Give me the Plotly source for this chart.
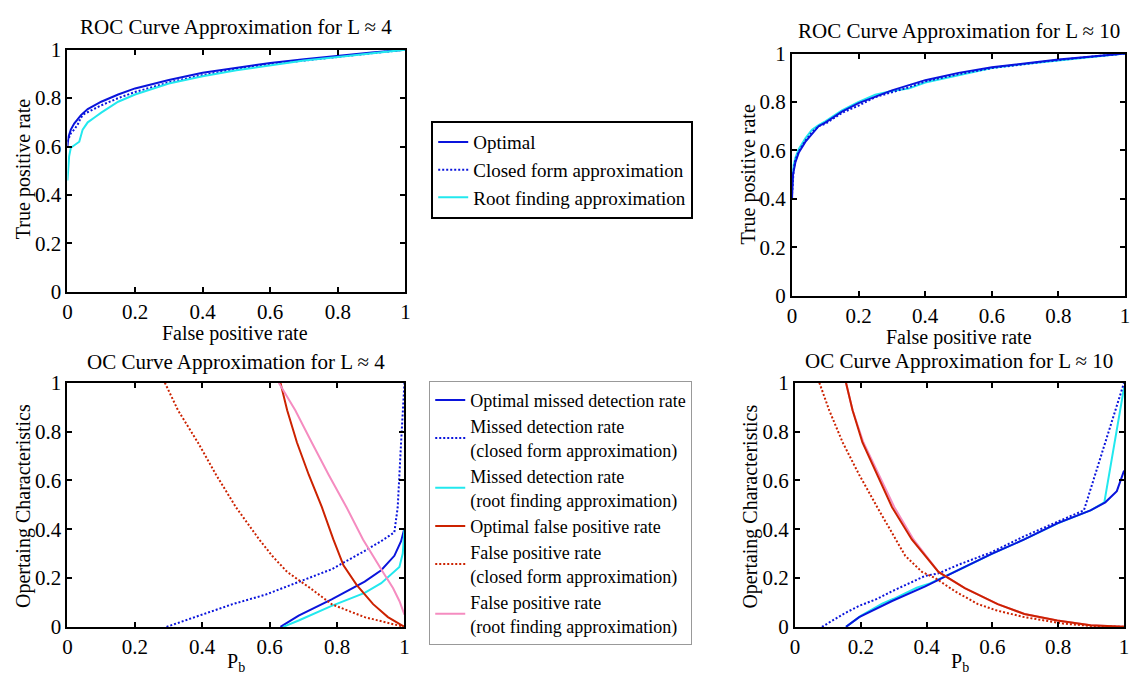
import plotly.graph_objects as go

# ---------------- DATA ----------------
# ROC, L ~ 4
roc4_opt_x = [0, 0.003, 0.01, 0.02, 0.04, 0.06, 0.1, 0.15, 0.2, 0.3, 0.4, 0.5, 0.6, 0.7, 0.8, 0.9, 1.0]
roc4_opt_y = [0.60, 0.64, 0.67, 0.695, 0.73, 0.755, 0.785, 0.815, 0.84, 0.875, 0.905, 0.925, 0.945, 0.96, 0.975, 0.988, 1.0]
roc4_cf_x = [0, 0.01, 0.02, 0.03, 0.04, 0.05, 0.1, 0.15, 0.2, 0.3, 0.4, 0.5, 0.6, 0.7, 0.8, 0.9, 1.0]
roc4_cf_y = [0.62, 0.655, 0.67, 0.69, 0.72, 0.735, 0.77, 0.80, 0.825, 0.865, 0.895, 0.92, 0.94, 0.955, 0.97, 0.985, 1.0]
roc4_rf_x = [0, 0.005, 0.01, 0.02, 0.035, 0.045, 0.06, 0.08, 0.1, 0.15, 0.2, 0.3, 0.4, 0.5, 0.6, 0.7, 0.8, 0.9, 1.0]
roc4_rf_y = [0.46, 0.56, 0.595, 0.605, 0.62, 0.67, 0.70, 0.72, 0.74, 0.785, 0.815, 0.86, 0.89, 0.915, 0.935, 0.955, 0.97, 0.985, 1.0]

# ROC, L ~ 10
roc10_opt_x = [0, 0.003, 0.01, 0.02, 0.04, 0.06, 0.08, 0.1, 0.15, 0.2, 0.3, 0.4, 0.5, 0.6, 0.7, 0.8, 0.9, 1.0]
roc10_opt_y = [0.40, 0.50, 0.55, 0.59, 0.635, 0.67, 0.70, 0.715, 0.76, 0.795, 0.848, 0.89, 0.92, 0.943, 0.96, 0.975, 0.988, 1.0]
roc10_cf_x = [0, 0.005, 0.01, 0.02, 0.04, 0.06, 0.08, 0.1, 0.15, 0.2, 0.25, 0.3, 0.35, 0.4, 0.5, 0.6, 0.7, 0.8, 0.9, 1.0]
roc10_cf_y = [0.42, 0.52, 0.56, 0.595, 0.64, 0.675, 0.70, 0.71, 0.755, 0.785, 0.82, 0.84, 0.86, 0.885, 0.915, 0.94, 0.958, 0.973, 0.987, 1.0]
roc10_rf_x = [0, 0.005, 0.01, 0.02, 0.04, 0.06, 0.08, 0.1, 0.15, 0.2, 0.25, 0.3, 0.35, 0.4, 0.5, 0.6, 0.7, 0.8, 0.9, 1.0]
roc10_rf_y = [0.45, 0.54, 0.57, 0.605, 0.65, 0.685, 0.705, 0.72, 0.765, 0.80, 0.83, 0.845, 0.855, 0.88, 0.91, 0.94, 0.957, 0.972, 0.987, 1.0]

# OC, L ~ 4
oc4_md_opt_x = [0.632, 0.686, 0.784, 0.882, 0.931, 0.97, 0.99, 1.0]
oc4_md_opt_y = [0, 0.046, 0.113, 0.185, 0.232, 0.291, 0.351, 0.404]
oc4_md_cf_x = [0.294, 0.392, 0.49, 0.588, 0.686, 0.784, 0.882, 0.931, 0.97, 0.98, 0.99, 1.0]
oc4_md_cf_y = [0, 0.046, 0.093, 0.132, 0.183, 0.236, 0.311, 0.351, 0.387, 0.49, 0.755, 1.0]
oc4_md_rf_x = [0.64, 0.686, 0.784, 0.882, 0.931, 0.97, 0.985, 0.995, 1.0]
oc4_md_rf_y = [0, 0.026, 0.086, 0.139, 0.179, 0.225, 0.245, 0.30, 0.40]
oc4_fp_opt_x = [0.632, 0.652, 0.681, 0.716, 0.755, 0.789, 0.819, 0.858, 0.907, 0.951, 1.0]
oc4_fp_opt_y = [1.0, 0.887, 0.755, 0.623, 0.49, 0.358, 0.252, 0.172, 0.093, 0.04, 0]
oc4_fp_cf_x = [0.289, 0.328, 0.387, 0.441, 0.5, 0.569, 0.608, 0.652, 0.72, 0.784, 0.833, 0.882, 0.94, 1.0]
oc4_fp_cf_y = [1.0, 0.887, 0.755, 0.623, 0.49, 0.358, 0.29, 0.225, 0.159, 0.093, 0.066, 0.04, 0.02, 0]
oc4_fp_rf_x = [0.627, 0.676, 0.725, 0.775, 0.828, 0.877, 0.936, 0.966, 0.985, 1.0]
oc4_fp_rf_y = [1.0, 0.887, 0.755, 0.623, 0.49, 0.358, 0.225, 0.159, 0.106, 0.05]

# OC, L ~ 10
oc10_md_opt_x = [0.155, 0.17, 0.195, 0.295, 0.396, 0.496, 0.596, 0.697, 0.797, 0.898, 0.943, 0.978, 1.0]
oc10_md_opt_y = [0, 0.015, 0.04, 0.106, 0.166, 0.232, 0.298, 0.358, 0.424, 0.477, 0.51, 0.556, 0.64]
oc10_md_cf_x = [0.082, 0.1, 0.15, 0.195, 0.25, 0.295, 0.35, 0.396, 0.436, 0.496, 0.596, 0.697, 0.797, 0.878, 1.0]
oc10_md_cf_y = [0, 0.015, 0.055, 0.086, 0.115, 0.146, 0.18, 0.209, 0.219, 0.254, 0.305, 0.371, 0.43, 0.477, 1.0]
oc10_md_rf_x = [0.155, 0.2, 0.265, 0.3, 0.37, 0.41, 0.5, 0.6, 0.7, 0.8, 0.9, 0.94, 1.0]
oc10_md_rf_y = [0, 0.045, 0.095, 0.115, 0.16, 0.178, 0.235, 0.30, 0.36, 0.425, 0.478, 0.51, 0.98]
oc10_fp_opt_x = [0.155, 0.175, 0.205, 0.25, 0.295, 0.355, 0.436, 0.516, 0.616, 0.697, 0.797, 0.898, 1.0]
oc10_fp_opt_y = [1.0, 0.887, 0.755, 0.623, 0.49, 0.358, 0.225, 0.159, 0.093, 0.053, 0.026, 0.007, 0]
oc10_fp_cf_x = [0.074, 0.104, 0.145, 0.195, 0.25, 0.305, 0.335, 0.386, 0.426, 0.486, 0.556, 0.616, 0.697, 0.817, 0.9, 1.0]
oc10_fp_cf_y = [1.0, 0.887, 0.755, 0.623, 0.49, 0.358, 0.291, 0.225, 0.2, 0.146, 0.093, 0.066, 0.04, 0.013, 0.004, 0]
oc10_fp_rf_x = [0.155, 0.175, 0.208, 0.256, 0.302, 0.36, 0.436, 0.516, 0.616, 0.697, 0.797, 0.898, 1.0]
oc10_fp_rf_y = [1.0, 0.887, 0.755, 0.623, 0.49, 0.358, 0.225, 0.159, 0.093, 0.053, 0.026, 0.007, 0]

tick_vals = [0, 0.2, 0.4, 0.6, 0.8, 1]
tick_text = ["0", "0.2", "0.4", "0.6", "0.8", "1"]

# ---------------- STYLE ----------------
BLUE = "#0a14dc"
CYAN = "#22e8ee"
RED = "#cc2200"
PINK = "#f58cc0"
FONT = "Liberation Serif"
W = 2
DOT = "2px,2px"

fig = go.Figure()

def add(x, y, color, dash, name, xa, ya, legend="legend", show=False):
    fig.add_trace(go.Scatter(
        x=x, y=y, mode="lines", name=name,
        line=dict(color=color, width=W, dash=dash),
        xaxis=xa, yaxis=ya, showlegend=show, legend=legend,
    ))

# Top-left ROC L~4
add(roc4_opt_x, roc4_opt_y, BLUE, "solid", "Optimal", "x", "y", "legend", True)
add(roc4_cf_x, roc4_cf_y, BLUE, DOT, "Closed form approximation", "x", "y", "legend", True)
add(roc4_rf_x, roc4_rf_y, CYAN, "solid", "Root finding approximation", "x", "y", "legend", True)

# Top-right ROC L~10
add(roc10_rf_x, roc10_rf_y, CYAN, "solid", "Root finding approximation", "x2", "y2")
add(roc10_opt_x, roc10_opt_y, BLUE, "solid", "Optimal", "x2", "y2")
add(roc10_cf_x, roc10_cf_y, BLUE, DOT, "Closed form approximation", "x2", "y2")

# Bottom-left OC L~4
add(oc4_md_opt_x, oc4_md_opt_y, BLUE, "solid", "Optimal missed detection rate", "x3", "y3", "legend2", True)
add(oc4_md_cf_x, oc4_md_cf_y, BLUE, DOT, "Missed detection rate<br>(closed form approximation)", "x3", "y3", "legend2", True)
add(oc4_md_rf_x, oc4_md_rf_y, CYAN, "solid", "Missed detection rate<br>(root finding approximation)", "x3", "y3", "legend2", True)
add(oc4_fp_opt_x, oc4_fp_opt_y, RED, "solid", "Optimal false positive rate", "x3", "y3", "legend2", True)
add(oc4_fp_cf_x, oc4_fp_cf_y, RED, DOT, "False positive rate<br>(closed form approximation)", "x3", "y3", "legend2", True)
add(oc4_fp_rf_x, oc4_fp_rf_y, PINK, "solid", "False positive rate<br>(root finding approximation)", "x3", "y3", "legend2", True)

# Bottom-right OC L~10
add(oc10_md_rf_x, oc10_md_rf_y, CYAN, "solid", "Missed detection rate (root finding approximation)", "x4", "y4")
add(oc10_md_opt_x, oc10_md_opt_y, BLUE, "solid", "Optimal missed detection rate", "x4", "y4")
add(oc10_md_cf_x, oc10_md_cf_y, BLUE, DOT, "Missed detection rate (closed form approximation)", "x4", "y4")
add(oc10_fp_rf_x, oc10_fp_rf_y, PINK, "solid", "False positive rate (root finding approximation)", "x4", "y4")
add(oc10_fp_opt_x, oc10_fp_opt_y, RED, "solid", "Optimal false positive rate", "x4", "y4")
add(oc10_fp_cf_x, oc10_fp_cf_y, RED, DOT, "False positive rate (closed form approximation)", "x4", "y4")

FW, FH = 1136, 691

def px(v):
    return v / FW

def py(v):
    return 1 - v / FH

def axis(domain, anchor):
    return dict(
        domain=domain, range=[0, 1], anchor=anchor,
        tickvals=tick_vals, ticktext=tick_text,
        ticks="inside", ticklen=5, tickwidth=1.5, tickcolor="black",
        showline=True, linecolor="black", linewidth=2, mirror="allticks",
        showgrid=False, zeroline=False,
        tickfont=dict(family=FONT, size=21, color="black"),
        fixedrange=True,
    )

TITLE_FONT = dict(family=FONT, size=21, color="black")
LABEL_FONT = dict(family=FONT, size=20, color="black")

def ann(text, x, y, font, angle=0):
    return dict(text=text, x=px(x), y=py(y), xref="paper", yref="paper", showarrow=False,
                font=font, xanchor="center", yanchor="middle", textangle=angle)

layout = dict(
    width=FW, height=FH,
    margin=dict(l=0, r=0, t=0, b=0),
    paper_bgcolor="white", plot_bgcolor="white",
    font=dict(family=FONT, color="black"),
    xaxis=axis([px(63), px(404)], "y"),
    yaxis=axis([py(290), py(39)], "x"),
    xaxis2=axis([px(794), px(1130)], "y2"),
    yaxis2=axis([py(294), py(43)], "x2"),
    xaxis3=axis([px(63), px(403)], "y3"),
    yaxis3=axis([py(637), py(384)], "x3"),
    xaxis4=axis([px(797), px(1129)], "y4"),
    yaxis4=axis([py(637), py(384)], "x4"),
    legend=dict(
        x=px(430), y=py(113), xanchor="left", yanchor="top",
        bgcolor="white", bordercolor="black", borderwidth=2,
        font=dict(family=FONT, size=19, color="black"),
        tracegroupgap=0, itemwidth=30,
    ),
    legend2=dict(
        x=px(428), y=py(382), xanchor="left", yanchor="top",
        bgcolor="white", bordercolor="#999999", borderwidth=1,
        font=dict(family=FONT, size=18, color="black"),
        tracegroupgap=0, itemwidth=30,
    ),
    annotations=[
        ann("ROC Curve Approximation for L \u2248 4", 233, 16, TITLE_FONT),
        ann("ROC Curve Approximation for L \u2248 10", 962, 20, TITLE_FONT),
        ann("OC Curve Approximation for L \u2248 4", 233, 363, TITLE_FONT),
        ann("OC Curve Approximation for L \u2248 10", 962, 362, TITLE_FONT),
        ann("False positive rate", 232, 333, LABEL_FONT),
        ann("False positive rate", 962, 337, LABEL_FONT),
        ann("P<sub>b</sub>", 233, 674, LABEL_FONT),
        ann("P<sub>b</sub>", 963, 674, LABEL_FONT),
        ann("True positive rate", 19, 163, LABEL_FONT, -90),
        ann("True positive rate", 750, 168, LABEL_FONT, -90),
        ann("Opertaing Characteristics", 18, 512, LABEL_FONT, -90),
        ann("Opertaing Characteristics", 752, 512, LABEL_FONT, -90),
    ],
)
fig.update_layout(**layout)

fig.write_html("out.html")
